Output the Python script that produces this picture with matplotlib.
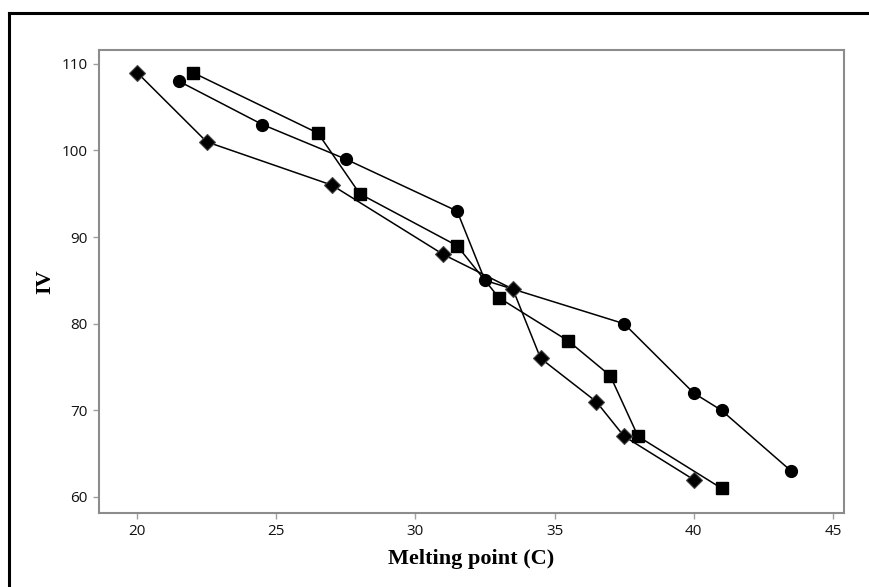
import numpy as np
import matplotlib
matplotlib.use("Agg")
import matplotlib.pyplot as plt
from matplotlib.lines import Line2D

# Melting point vs IV, three sample series
circle_x = [21.5, 24.5, 27.5, 31.5, 32.5, 37.5, 40, 41, 43.5]
circle_y = [108, 103, 99, 93, 85, 80, 72, 70, 63]

square_x = [22, 26.5, 28, 31.5, 33, 35.5, 37, 38, 41]
square_y = [109, 102, 95, 89, 83, 78, 74, 67, 61]

diamond_x = [20, 22.5, 27, 31, 33.5, 34.5, 36.5, 37.5, 40]
diamond_y = [109, 101, 96, 88, 84, 76, 71, 67, 62]

x_ticks = [20, 25, 30, 35, 40, 45]
y_ticks = [60, 70, 80, 90, 100, 110]

fig = plt.figure(figsize=(8.69, 5.87), dpi=100)
ax = fig.add_axes([0.1139, 0.1261, 0.8573, 0.7887])

ax.plot(circle_x, circle_y, color="black", lw=1.1, marker="o", ms=8.5)
ax.plot(square_x, square_y, color="black", lw=1.1, marker="s", ms=8)
ax.plot(diamond_x, diamond_y, color="black", lw=1.1, marker="D", ms=8.2,
        mec="#444444", mew=0.8)

ax.set_xlim(18.63, 45.4)
ax.set_ylim(58.15, 111.6)
ax.set_xticks(x_ticks)
ax.set_yticks(y_ticks)

for s in ax.spines.values():
    s.set_color("#8c8c8c")
    s.set_linewidth(1.5)

ax.tick_params(axis="both", direction="out", length=4, width=1,
               color="#a0a0a0", labelsize=11, labelcolor="#111111", pad=4)
for lab in ax.get_xticklabels() + ax.get_yticklabels():
    lab.set_fontfamily("Open Sans")

ax.set_xlabel("Melting point (C)", fontsize=16, fontweight="bold",
              fontfamily="Liberation Serif", labelpad=7)
ax.set_ylabel("IV", fontsize=16, fontweight="bold",
              fontfamily="Liberation Serif", labelpad=5)

# thick black frame on the top and left of the figure
fig.add_artist(Line2D([8.5 / 869, 8.5 / 869], [0, 1 - 12.5 / 587],
                      transform=fig.transFigure, color="black", lw=2.2,
                      solid_capstyle="projecting"))
fig.add_artist(Line2D([8.5 / 869, 1], [1 - 12.5 / 587, 1 - 12.5 / 587],
                      transform=fig.transFigure, color="black", lw=2.2,
                      solid_capstyle="projecting"))

fig.savefig("out.png", dpi=100)
